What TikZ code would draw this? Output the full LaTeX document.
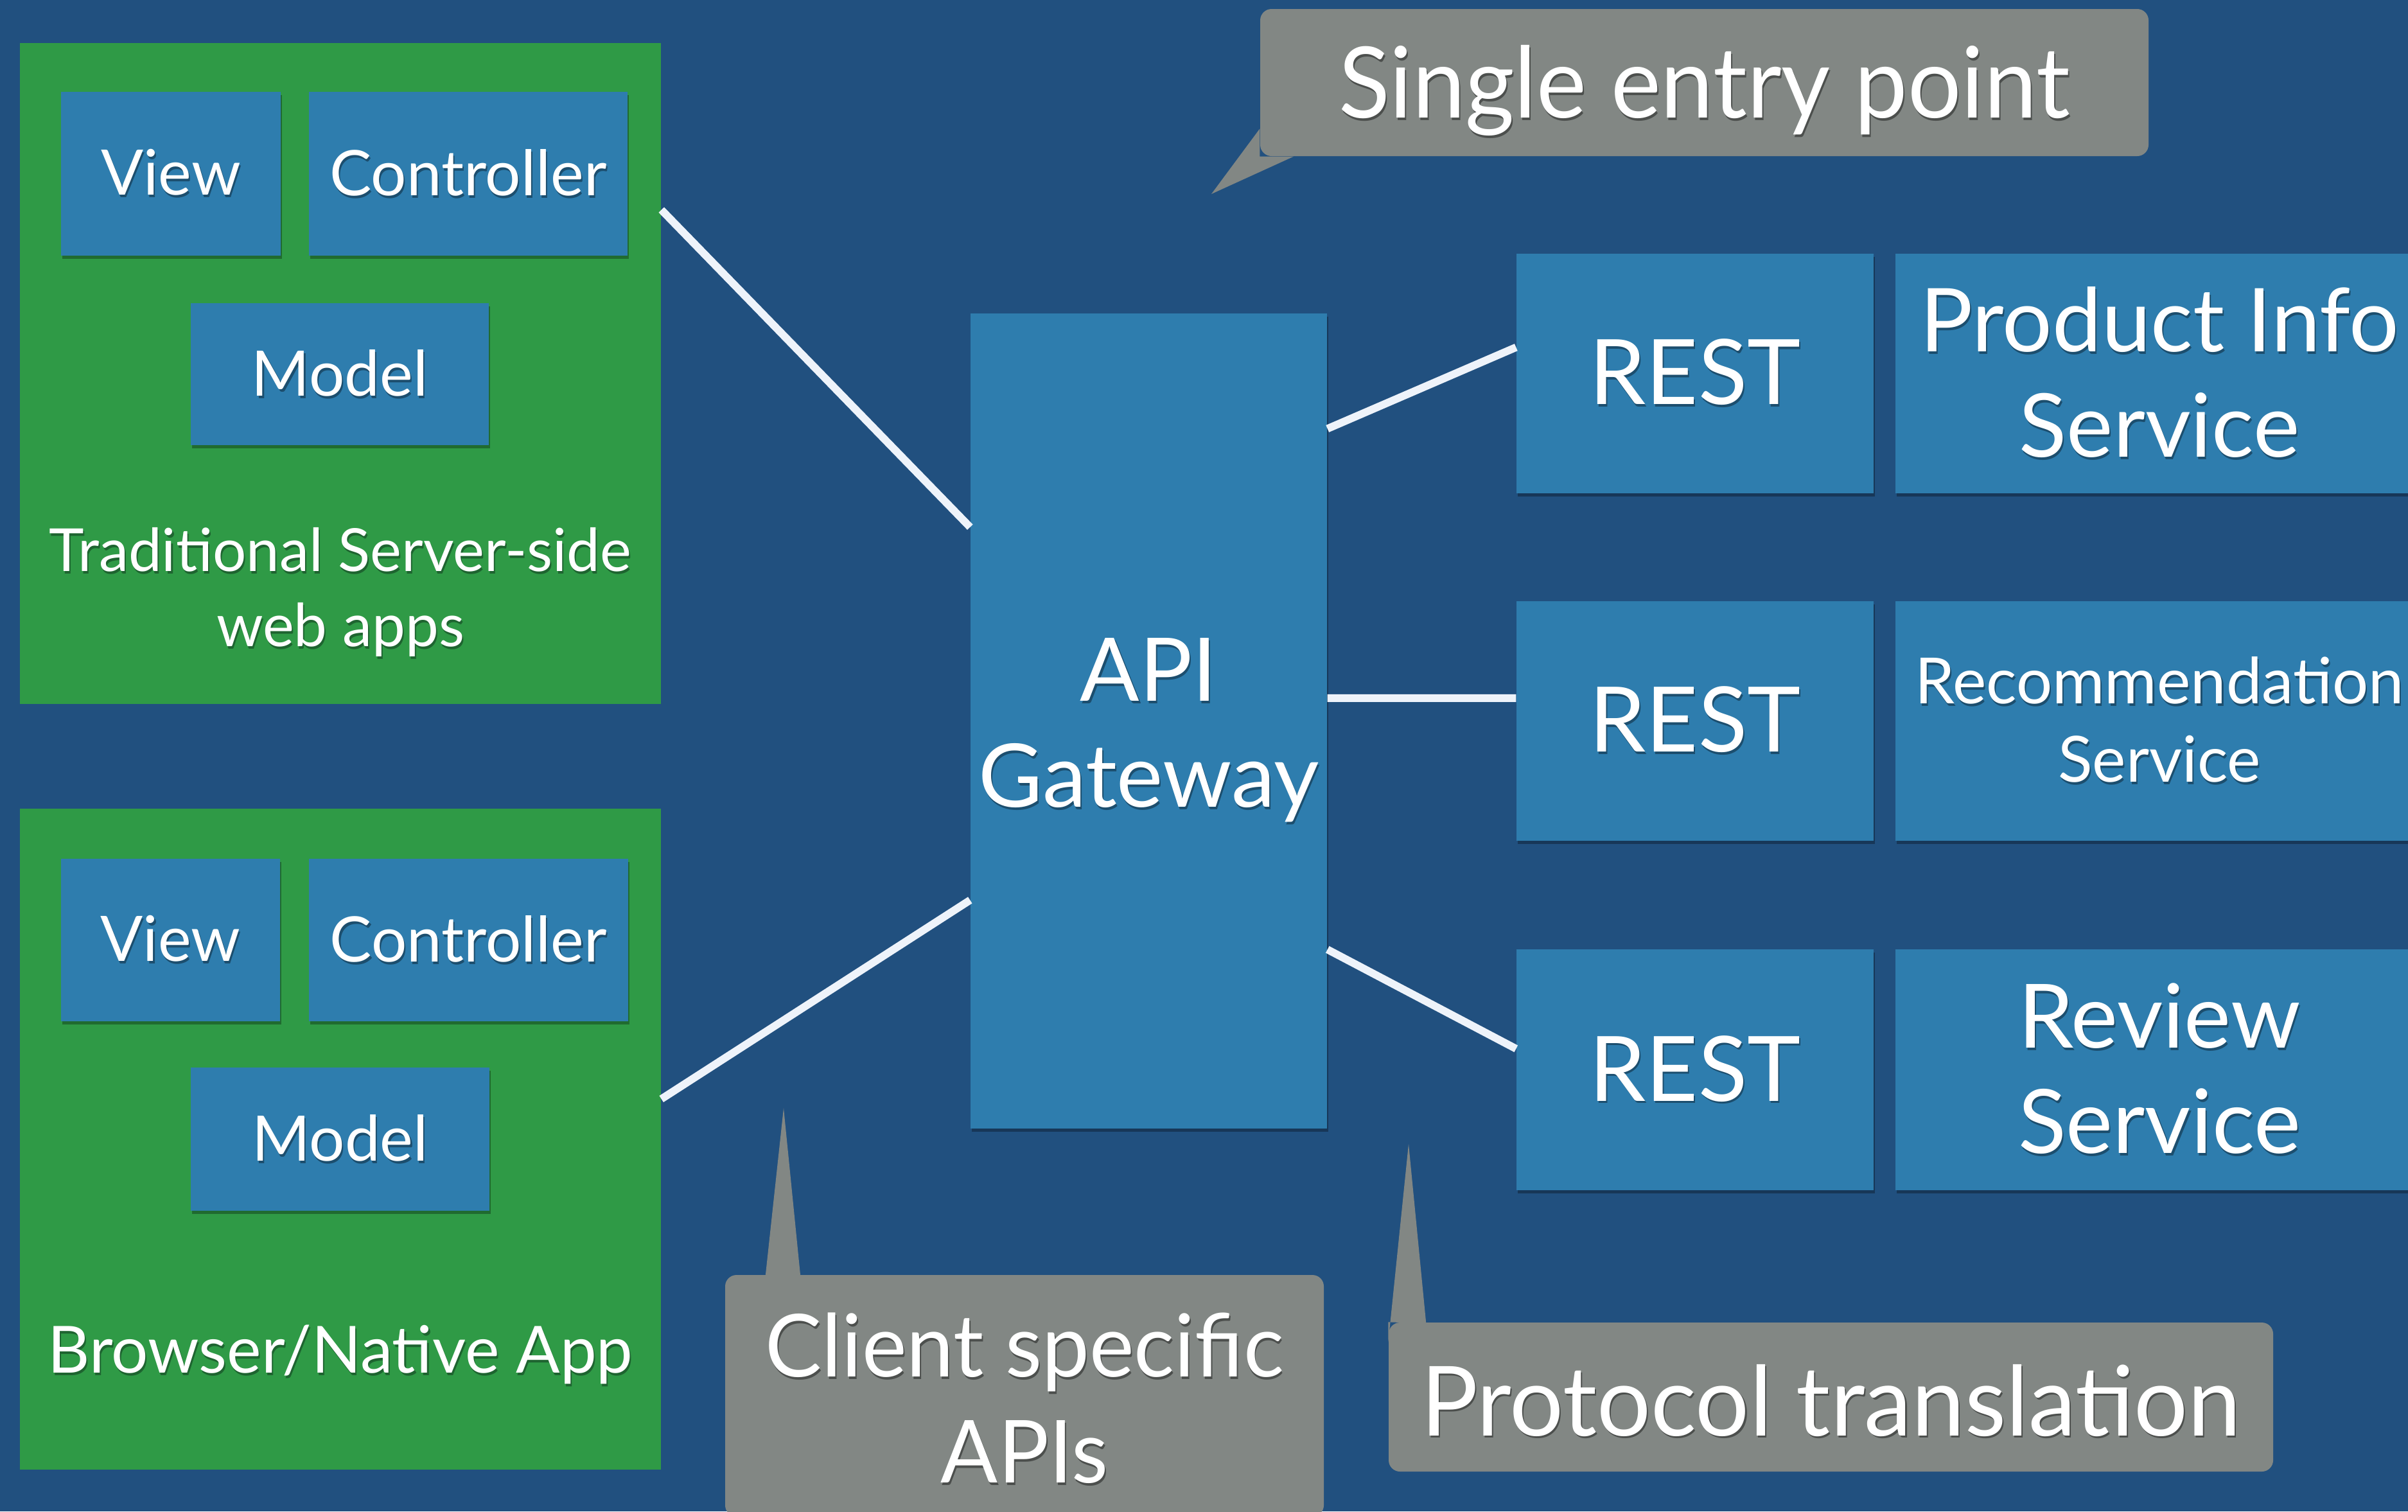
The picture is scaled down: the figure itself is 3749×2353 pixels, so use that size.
\documentclass[tikz,border=0pt]{standalone}
\usepackage{fontspec}
\setmainfont{Lato}
\usetikzlibrary{calc,fit,shadows}

\definecolor{deskblue}{HTML}{21507F}
\definecolor{panelgreen}{HTML}{2F9A46}
\definecolor{tileblue}{HTML}{2E7DAE}
\definecolor{notegray}{HTML}{828784}
\definecolor{wirewhite}{HTML}{EEF3FA}
\definecolor{tileshade}{HTML}{1C4E6E}
\definecolor{panelshade}{HTML}{1E6430}
\definecolor{noteshade}{HTML}{4C4F4D}

% white lettering with a dark drop shadow underneath
\newcommand\lift[2][tileshade]{\leavevmode\rlap{\kern0.6pt\raisebox{-1.1pt}{\textcolor{#1}{#2}}}#2}
% squeeze a line horizontally so that a reference line gets a given width
\newlength\notew
\newcommand\squeeze[3]{\settowidth\notew{#2}\pgfmathsetmacro\sqf{#1/\the\notew}\scalebox{\sqf}[1]{#3}}
% lower a line without changing the size of its box (optical centring)
\newcommand\sink[2]{\raisebox{-#1}[\height][\depth]{#2}}

\tikzset{
  panel/.style={fill=panelgreen, inner sep=0pt},
  sz/.style 2 args={minimum width=#1*0.01cm, minimum height=#2*0.01cm},
  tile/.style={fill=tileblue, inner sep=0pt, text=white, align=center,
    drop shadow={shadow xshift=0.5pt, shadow yshift=-1.3pt, fill=black, opacity=0.3}},
  note/.style={fill=notegray, rounded corners=5pt, inner sep=0pt, text=white, align=center},
  tail/.style={fill=notegray},
  wire/.style={draw=wirewhite, line width=3.4pt},
  caption/.style={text=white, align=center, inner sep=0pt},
  fs/.style 2 args={font=\fontsize{#1}{#2}\selectfont}
}

\begin{document}
\begin{tikzpicture}[x=0.01cm, y=-0.01cm]
\useasboundingbox (0,0) rectangle (3749,2353);
\fill[deskblue] (0,0) rectangle (3749,2353);

% client panels
\node[panel, fit={(31,67) (1029,1096)}] (web) {};
\node[panel, fit={(31,1259) (1029,2288)}] (app) {};

\node[tile, sz={342}{255}, fs={27.8pt}{33pt}] (webview) at (266,270.5) {\lift{View}};
\node[tile, sz={496}{255}, fs={27.8pt}{33pt}] (webctrl) at (729,270.5) {\lift{Controller}};
\node[tile, sz={464}{221}, fs={27.8pt}{33pt}] (webmodel) at (529,582.5) {\lift{Model}};
\node[caption, fs={26.3pt}{33.3pt}] (webcap) at (530,924)
  {\lift[panelshade]{Traditional Server-side}\\\lift[panelshade]{web apps}};

\node[tile, sz={341}{253}, fs={27.8pt}{33pt}] (appview) at (265.5,1463.5) {\lift{View}};
\node[tile, sz={497}{253}, fs={27.8pt}{33pt}] (appctrl) at (729.5,1463.5) {\lift{Controller}};
\node[tile, sz={465}{223}, fs={27.8pt}{33pt}] (appmodel) at (529.5,1773.5) {\lift{Model}};
\node[caption, fs={28.8pt}{34pt}] (appcap) at (530,2111)
  {\lift[panelshade]{Browser/Native App}};

% gateway
\node[tile, sz={555}{1269}, fs={38.9pt}{46.9pt}] (api) at (1788.5,1122.5)
  {\sink{4.5pt}{\lift{API}}\\\sink{4.5pt}{\lift{Gateway}}};

% REST endpoints and services
\node[tile, sz={556}{373}, fs={40pt}{46pt}] (rest1) at (2639,581.5) {\lift{REST}};
\node[tile, sz={556}{373}, fs={40pt}{46pt}] (rest2) at (2639,1122.5) {\lift{REST}};
\node[tile, sz={556}{375}, fs={40pt}{46pt}] (rest3) at (2639,1665.5) {\lift{REST}};

\node[tile, sz={822}{373}, fs={39pt}{46.7pt}] (product) at (3362,581.5) {\lift{Product Info}\\\lift{Service}};
\node[tile, sz={822}{373}, fs={28.2pt}{34.7pt}] (recommend) at (3362,1122.5) {\lift{Recommendation}\\\lift{Service}};
\node[tile, sz={822}{375}, fs={39.3pt}{46.7pt}] (review) at (3362,1665.5) {\lift{Review}\\\lift{Service}};

% connectors
\draw[wire] ($(web.north east)!0.2527!(web.south east)$) -- ($(api.north west)!0.2624!(api.south west)$);
\draw[wire] ($(app.north east)!0.4393!(app.south east)$) -- ($(api.north west)!0.7195!(api.south west)$);
\draw[wire] ($(api.north east)!0.1418!(api.south east)$) -- ($(rest1.north west)!0.391!(rest1.south west)$);
\draw[wire] ($(api.north east)!0.472!(api.south east)$) -- ($(rest2.north west)!0.405!(rest2.south west)$);
\draw[wire] ($(api.north east)!0.780!(api.south east)$) -- ($(rest3.north west)!0.413!(rest3.south west)$);

% callouts
\node[note, sz={1383}{229}, fs={43.7pt}{50pt}] (entry) at (2653.5,128.5)
  {\sink{4pt}{\squeeze{323.8pt}{Single entry point}{\lift[noteshade]{Single entry point}}}};
\coordinate (entrytip) at (1886,302);
\fill[tail] ($(entry.north west)!0.812!(entry.south west)$) -- (entrytip)
  -- ($(entry.south west)!0.038!(entry.south east)$) -- (entry.south west) -- cycle;

\node[note, sz={932}{376}, fs={38.5pt}{46.9pt}] (client) at (1595,2173)
  {\sink{1.5pt}{\squeeze{229.6pt}{Client specific}{\lift[noteshade]{Client specific}}}\\
   \sink{1.5pt}{\squeeze{229.6pt}{Client specific}{\lift[noteshade]{APIs}}}};
\coordinate (clienttip) at (1220,1725);
\fill[tail] ($(client.north west)!0.0676!(client.north east)+(0,5)$) -- (clienttip)
  -- ($(client.north west)!0.1266!(client.north east)+(0,5)$) -- cycle;

\node[note, sz={1377}{232}, fs={42.9pt}{50pt}] (proto) at (2850.5,2175)
  {\sink{2pt}{\squeeze{363.1pt}{Protocol translation}{\lift[noteshade]{Protocol translation}}}};
\coordinate (prototip) at (2193,1781);
\fill[tail] ($(proto.north west)!0.134!(proto.south west)$) -- (prototip)
  -- ($(proto.north west)!0.0428!(proto.north east)+(0,2)$) -- (proto.north west) -- cycle;
\end{tikzpicture}
\end{document}
